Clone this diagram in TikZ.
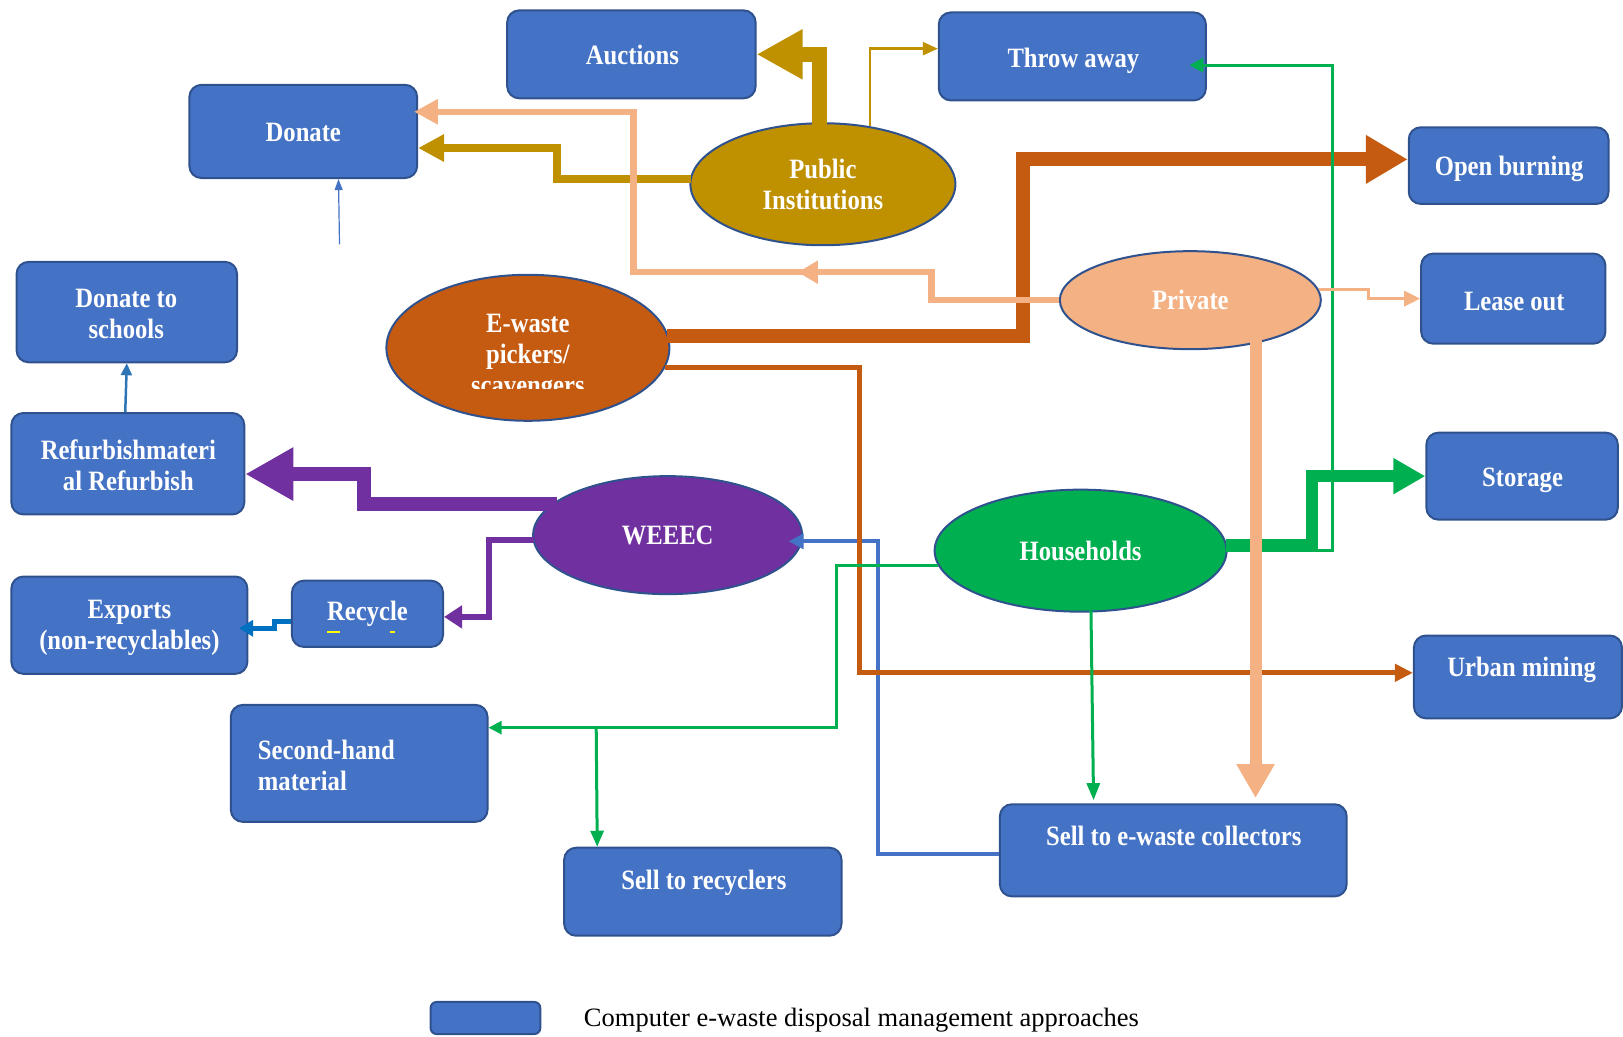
\documentclass[tikz,border=0pt]{standalone}
\usepackage{fontspec}
\setmainfont{Liberation Serif}
\newfontfamily\lblfont[FakeStretch=0.88]{Liberation Serif}
\usetikzlibrary{arrows.meta,calc,fit,shapes.geometric,decorations.markings}

\definecolor{boxblue}{HTML}{4472C4}
\definecolor{boxedge}{HTML}{2F528F}
\definecolor{pubgold}{HTML}{BF9000}
\definecolor{peach}{HTML}{F4B183}
\definecolor{rust}{HTML}{C55A11}
\definecolor{plum}{HTML}{7030A0}
\definecolor{leaf}{HTML}{00B050}
\definecolor{azure}{HTML}{0070C0}
\definecolor{steel}{HTML}{2E75B6}
\definecolor{marker}{HTML}{FFFF00}

\begin{document}
\begin{tikzpicture}[x=1.0351pt,y=-1.0351pt,
  box/.style={draw=boxedge,fill=boxblue,line width=2pt,rounded corners=12pt,inner sep=0pt},
  oval/.style={ellipse,draw=boxedge,line width=2pt,inner sep=0pt,text=white,
    font=\lblfont\bfseries\fontsize{28}{31}\selectfont,align=center},
  lbl/.style={text=white,font=\lblfont\bfseries\fontsize{28}{31}\selectfont,align=center,inner sep=0pt},
  lbl1/.style={lbl,text height=18.5pt,text depth=0pt},
]
\useasboundingbox (0,0) rectangle (1568,1001);

% disposal approaches
\node[box,fit={(490,10)(730,95)}] (auc) {};
\node[box,fit={(907,12)(1165,97)}] (thr) {};
\node[box,fit={(183,82)(403,172)}] (don) {};
\node[box,fit={(1361,123)(1554,197)}] (obn) {};
\node[box,fit={(1373,245)(1551,332)}] (lea) {};
\node[box,fit={(16,253)(229,350)}] (dts) {};
\node[box,fit={(11,399)(236,497)}] (ref) {};
\node[box,fit={(1378,418)(1563,502)}] (sto) {};
\node[box,fit={(11,557)(239,651)}] (exp) {};
\node[box,fit={(282,561)(428,625)}] (rcy) {};
\node[box,fit={(1366,614)(1567,694)}] (urb) {};
\node[box,fit={(223,681)(471,794)}] (shm) {};
\node[box,fit={(545,819)(813,904)}] (srec) {};
\node[box,fit={(966,777)(1301,866)}] (sec) {};
\node[box,rounded corners=6pt,fit={(416,968)(522,999)}] (key) {};

% actors
\node[oval,fill=pubgold,minimum width=265pt,minimum height=122pt] (pub) at (795,178) {Public\\Institutions};
\node[oval,fill=peach,minimum width=261pt,minimum height=98pt] (prv) at (1150,290) {Private};
\node[oval,fill=rust,minimum width=283pt,minimum height=146pt] (ewp) at (510,336) {};
\begin{scope}
  \clip (373,266) rectangle (650,375);
  \node[lbl] (ewp-t) at (510,345) {E-waste\\pickers/\\scavengers};
\end{scope}
\node[oval,fill=plum,minimum width=269pt,minimum height=118pt] (wee) at (645,517) {WEEEC};
\node[oval,fill=leaf,minimum width=292pt,minimum height=122pt] (hh) at (1044,532) {Households};

% public institutions
\draw[pubgold,line width=15pt,-{Triangle[length=46pt,width=47pt]}] ($(pub.north)+(-3,3)$) |- (auc.east);
\draw[pubgold,line width=2.5pt,-{Triangle[length=15pt,width=13pt]}] (pub.51) |- ($(thr.west)+(0,-7.5)$);
\draw[pubgold,line width=8pt,-{Triangle[length=26pt,width=26pt]}] ($(pub.west)+(2,-5)$) -| (538,143) -- ($(don.east)+(0,16)$);

% collectors back to WEEEC
\draw[boxblue,line width=4pt,-{Triangle[length=15pt,width=15pt]}] ($(sec.west)+(0,3.5)$) -| (848,523) -- ($(wee.east)+(-14,6)$);

% e-waste pickers
\draw[rust,line width=14pt,-{Triangle[length=42pt,width=46pt]}] ($(ewp.east)+(-3,-11)$) -| (988,154) -- ($(obn.west)+(0,-6)$);
\draw[rust,line width=5pt,-{Triangle[length=18pt,width=17pt]}] (ewp.-8) -| (830,650) -- ($(urb.west)+(0,-4)$);

% households
\draw[leaf,line width=12pt,-{Triangle[length=32pt,width=34pt]}] ($(hh.east)+(-2,-5)$) -| (1268,460) -- (sto.west);
\draw[leaf,line width=3pt,-{Triangle[length=14pt,width=14pt]}] ($(hh.east)+(-2,0)$) -| (1287,63) -- ($(thr.east)+(-17,8.5)$);
\draw[leaf,line width=2.5pt,-{Triangle[length=13pt,width=13pt]}] (hh.186) -| (808,703) -- ($(shm.east)+(0,-34.5)$);
\coordinate (fork) at (576,703);
\draw[leaf,line width=3pt,-{Triangle[length=16pt,width=13pt]}] (fork) -- ($(srec.north)+(-102,0)$);
\draw[leaf,line width=3pt,-{Triangle[length=17pt,width=13pt]}] ($(hh.south)+(10,-2)$) -- ($(sec.north)+(-77,-3)$);

% private
\draw[peach,line width=6.5pt,-{Triangle[length=24pt,width=24pt]},
  postaction={decorate},
  decoration={markings,mark=at position 289pt with {\arrow{Triangle[length=20pt,width=22pt]}}}]
  (prv.west) -| (900,263) -| (612,108) -- ($(don.east)+(-4,-19)$);
\draw[peach,line width=3pt,-{Triangle[length=16pt,width=15pt]}] ($(prv.east)+(-3,-10)$) -- (1322,280) |- (lea.west);
\draw[peach,line width=12pt,-{Triangle[length=34pt,width=36pt]}] ($(prv.south)+(63,-10)$) -- ($(sec.north)+(79.5,-5)$);

% WEEEC
\draw[plum,line width=14pt,-{Triangle[length=48pt,width=50pt]}] ($(wee.165)+(5,0)$) -| (352,458) -- ($(ref.east)+(0,10)$);
\draw[plum,line width=6pt,-{Triangle[length=18pt,width=22pt]}] ($(wee.west)+(2,5)$) -| (472,596) -- ($(rcy.east)+(0,3)$);

% onward flows
\draw[azure,line width=5pt,-{Triangle[length=14pt,width=16pt]}] ($(rcy.west)+(0,7)$) -- (265,600) |- ($(exp.east)+(-9,3)$);
\draw[steel,line width=2.5pt,-{Triangle[length=12pt,width=11pt]}] ($(ref.north)+(-2.5,0)$) -- (dts.south);
\coordinate (dtail) at (328,236);
\draw[boxblue,line width=1.2pt,-{Triangle[length=11pt,width=8pt]}] (dtail) -- ($(don.south)+(34,0)$);

% box labels
\node[lbl1] (auc-t) at (611,53) {Auctions};
\node[lbl1] (thr-t) at (1037,56) {Throw away};
\node[lbl1] (don-t) at (293,128) {Donate};
\node[lbl1] (obn-t) at (1458,161) {Open burning};
\node[lbl1] (lea-t) at (1463,291) {Lease out};
\node[lbl] (dts-t) at (122,303) {Donate to\\schools};
\node[lbl] (ref-t) at (124,450) {Refurbishmateri\\al Refurbish};
\node[lbl1] (sto-t) at (1471,461) {Storage};
\node[lbl] (exp-t) at (125,607) {Exports\\(non-recyclables)};
\node[lbl1] (rcy-t) at (355,591) {Recycle};
\draw[marker,line width=2pt] (316,611) -- (328,611) (377,611) -- (382,611);
\node[lbl1] (urb-t) at (1470,645) {Urban mining};
\node[lbl,align=left,anchor=west] (shm-t) at (249,739) {Second-hand\\material};
\node[lbl1] (srec-t) at (680,850) {Sell to recyclers};
\node[lbl1] (sec-t) at (1134,808) {Sell to e-waste collectors};

% key
\node[anchor=west,inner sep=0pt,font=\fontsize{26.5}{30}\selectfont] (key-t) at (564,986) {Computer e-waste disposal management approaches};
\end{tikzpicture}
\end{document}
